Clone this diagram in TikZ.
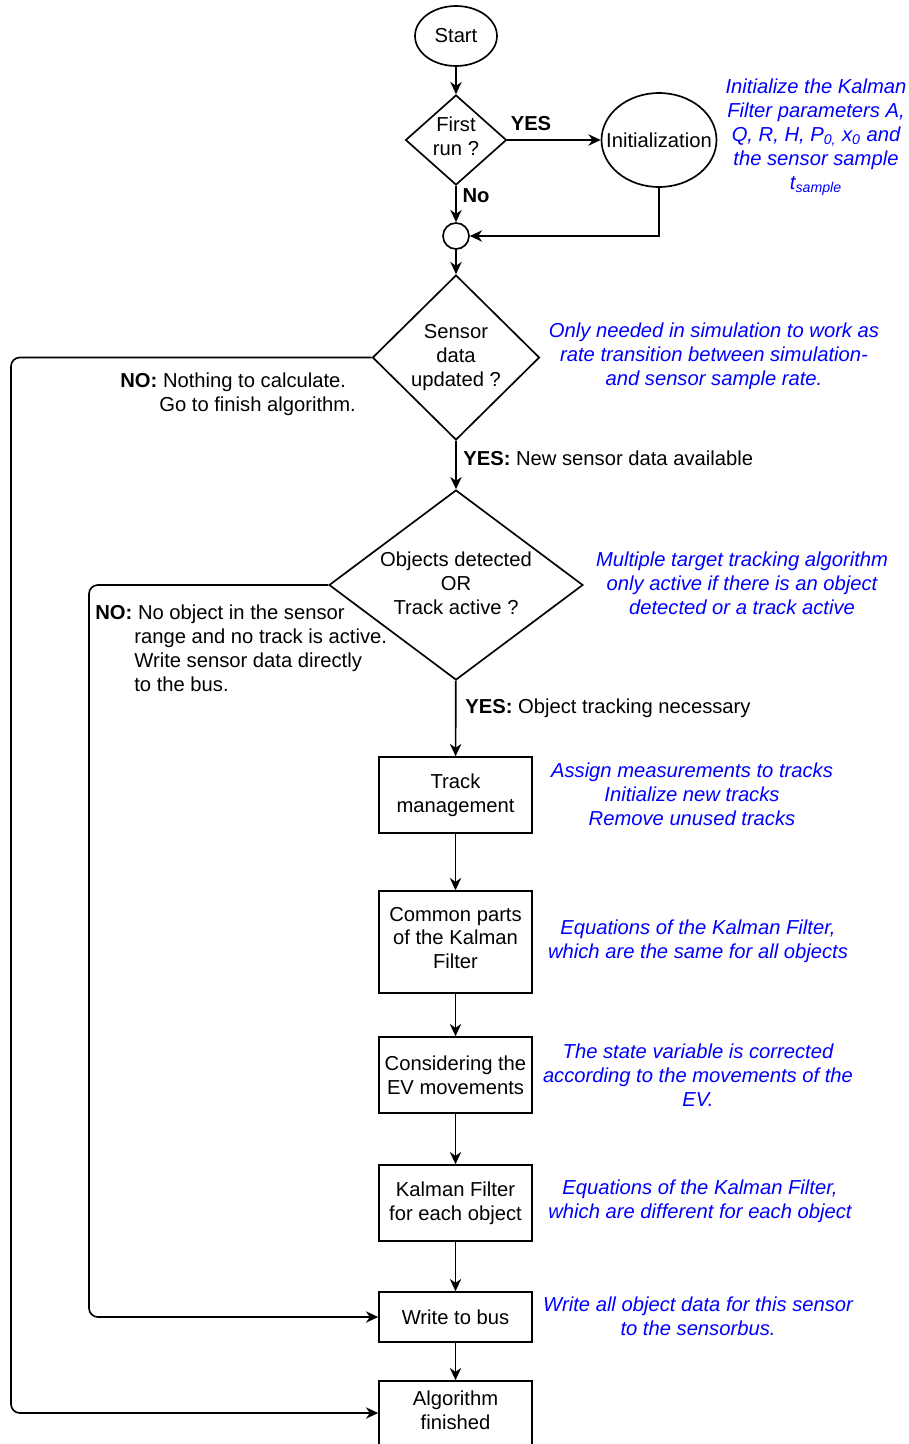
\documentclass[tikz,border=0pt]{standalone}
\usepackage{fontspec}
\setmainfont{Liberation Sans}
\usetikzlibrary{arrows.meta,shapes.geometric}
\begin{document}
\begin{tikzpicture}[x=0.02cm,y=-0.02cm,
  every node/.style={font=\fontsize{11.5}{13.6}\selectfont},
  box/.style={draw,line width=0.95pt,minimum width=3.06cm,inner sep=2pt,align=center},
  dia/.style={draw,diamond,line width=0.95pt,inner sep=0pt},
  ell/.style={draw,ellipse,line width=0.95pt,inner sep=0pt},
  note/.style={text=blue,font=\fontsize{11.5}{13.6}\selectfont\itshape,align=center},
  lbl/.style={align=left,inner sep=0pt},
  conn/.style={line width=0.95pt,-{Stealth[length=7pt,width=6.5pt]}},
  loop/.style={conn,rounded corners=5pt}]
\useasboundingbox (0,0) rectangle (909,1444);

% nodes
\node[ell,minimum width=1.64cm,minimum height=1.2cm] (start) at (456,36) {Start};
\node[dia,minimum width=2.02cm,minimum height=1.8cm,
  label={[align=center,yshift=0.08cm]center:First\\run ?}] (first) at (456,140) {};
\node[ell,minimum width=2.3cm,minimum height=1.88cm,
  label={center:Initialization}] (init) at (659,140) {};
\node[draw,circle,minimum size=0.52cm,inner sep=0pt,line width=0.95pt] (junc) at (456,236) {};
\node[dia,minimum width=3.34cm,minimum height=3.3cm,
  label={[align=center]center:Sensor\\data\\updated ?}] (sensor) at (456,357.5) {};
\node[dia,minimum width=5.08cm,minimum height=3.8cm,
  label={[align=center,yshift=0.04cm]center:Objects detected\\OR\\Track active ?}] (obj) at (456,585) {};
\node[box,minimum height=1.52cm] (track) at (455.5,795) {Track\\management};
\node[box,minimum height=2.04cm,
  label={[align=center,yshift=0.08cm]center:Common parts\\of the Kalman\\Filter}] (common) at (455.5,942) {};
\node[box,minimum height=1.52cm] (ev) at (455.5,1075) {Considering the\\EV movements};
\node[box,minimum height=1.52cm] (kal) at (455.5,1203) {Kalman Filter\\for each object};
\node[box,minimum height=1.0cm] (bus) at (455.5,1317) {Write to bus};
\node[box,minimum height=1.28cm,
  label={[align=center,yshift=0.06cm]center:Algorithm\\finished}] (algo) at (455.5,1413) {};

\coordinate (lA) at (11,0);
\coordinate (lB) at (89,0);

% connectors
\draw[conn] (start) -- (first);
\draw[conn] (first) -- (init);
\draw[conn] (first) -- (junc);
\draw[conn] (init.south) |- (junc.east);
\draw[conn] (junc) -- (sensor);
\draw[conn] (sensor) -- (obj);
\draw[conn] (obj) -- (track);
\draw[conn] (track) -- (common);
\draw[conn] (common) -- (ev);
\draw[conn] (ev) -- (kal);
\draw[conn] (kal) -- (bus);
\draw[conn] (bus) -- (algo);
\draw[loop] (sensor.west) -| (lA |- algo.west) -- (algo.west);
\draw[loop] (obj.west) -| (lB |- bus.west) -- (bus.west);

% connector labels
\node[font=\fontsize{11.5}{13.6}\selectfont\bfseries] (yes1) at (531,124) {YES};
\node[font=\fontsize{11.5}{13.6}\selectfont\bfseries] (no1) at (476,196) {No};
\node[lbl,anchor=west] (no2) at (120,394)
  {\textbf{NO:} Nothing to calculate.\\\hspace*{0.78cm}Go to finish algorithm.};
\node[lbl,anchor=west] (yes2) at (463,458) {\textbf{YES:} New sensor data available};
\node[lbl,anchor=west] (no3) at (95,648)
  {\textbf{NO:} No object in the sensor\\\hspace*{0.78cm}range and no track is active.\\\hspace*{0.78cm}Write sensor data directly\\\hspace*{0.78cm}to the bus.};
\node[lbl,anchor=west] (yes3) at (465,708) {\textbf{YES:} Object tracking necessary};

% notes
\node[note] (n1) at (816,137) {Initialize the Kalman\\Filter parameters A,\\Q, R, H, P\textsubscript{0,} x\textsubscript{0} and\\the sensor sample\\t\textsubscript{sample}};
\node[note] (n2) at (714,356) {Only needed in simulation to work as\\rate transition between simulation-\\and sensor sample rate.};
\node[note] (n3) at (742,583) {Multiple target tracking algorithm\\only active if there is an object\\detected or a track active};
\node[note] (n4) at (692,794) {Assign measurements to tracks\\Initialize new tracks\\Remove unused tracks};
\node[note] (n5) at (698,941) {Equations of the Kalman Filter,\\which are the same for all objects};
\node[note] (n6) at (698,1075) {The state variable is corrected\\according to the movements of the\\EV.};
\node[note] (n7) at (700,1201) {Equations of the Kalman Filter,\\which are different for each object};
\node[note] (n8) at (698,1316) {Write all object data for this sensor\\to the sensorbus.};
\end{tikzpicture}
\end{document}
